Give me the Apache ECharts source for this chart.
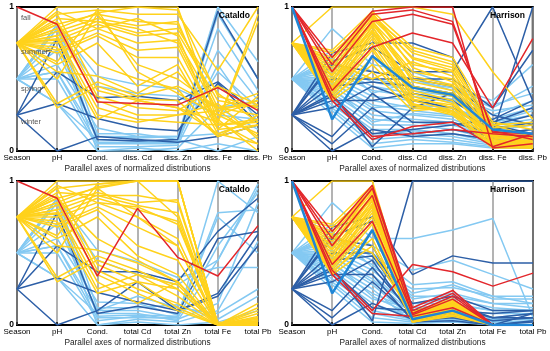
<!DOCTYPE html>
<html><head><meta charset="utf-8">
<script src="https://cdn.jsdelivr.net/npm/echarts@6/dist/echarts.min.js"></script>
<style>html,body{margin:0;padding:0;background:#fff}#c{width:550px;height:351px}</style>
</head><body><div id="c"></div>
<script>
// Axis labels
const dissAxes = ['Season','pH','Cond.','diss. Cd','diss. Zn','diss. Fe','diss. Pb'];
const totalAxes = ['Season','pH','Cond.','total Cd','total Zn','total Fe','total Pb'];
const axisTitle = 'Parallel axes of normalized distributions';
const seasonLabels = ['fall','summer','spring','winter'];
const seasonValues = [1, 0.75, 0.5, 0.25];

// Cataldo samples: [season, pH, Cond.]
const cataldoBase = [
 [1,0.88,0.34],
 [0.25,0,0.1],[0.25,0.33,0.225],[0.25,0.55,0.37],[0.25,0.78,0.08],
 [0.5,0.88,0.52],[0.5,0.85,0.45],[0.5,0.55,0.1],[0.5,0.33,0.08],[0.5,0.55,0.05],[0.5,0.5,0.03],
 [0.5,0.78,0.0],[0.5,0.7,0.1],[0.5,0.88,0.12],[0.5,0.33,0.0],[0.5,0.6,0.16],[0.5,0.85,0.06],
 [0.75,1.0,1.0],[0.75,0.95,0.98],[0.75,0.88,0.95],[0.75,0.83,0.92],[0.75,0.8,0.9],[0.75,0.77,0.88],
 [0.75,0.75,0.85],[0.75,0.7,0.82],[0.75,0.68,0.8],[0.75,0.6,0.75],[0.75,0.55,0.52],[0.75,0.33,0.48],
 [0.75,0.3,0.45],[0.75,0.95,0.42],[0.75,0.9,0.38],[0.75,0.85,0.35],[0.75,0.8,0.3],[0.75,0.78,0.25],
 [0.75,0.72,0.22],[0.75,0.62,0.98],[0.75,0.85,0.96],[0.75,0.97,0.85],[0.75,0.92,0.9],[0.75,0.88,0.6],
 [0.75,0.5,0.95]
];
// Cataldo dissolved: [Cd, Zn, Fe, Pb]
const cataldoDiss = [
 [0.33,0.32,0.44,0.28],
 [0.08,0.06,0.1,0.18],[0.16,0.14,0.47,0.19],[0.38,0.35,0.48,0.25],[0.07,0.08,0.97,0.5],
 [0.46,0.43,0.3,0.35],[0.4,0.38,0.25,0.22],[0.1,0.1,1.0,0.62],[0.07,0.07,0.95,0.5],[0.05,0.05,0.85,0.42],[0.03,0.04,0.6,0.2],
 [0.0,0.02,0.3,0.15],[0.09,0.1,0.12,0.22],[0.12,0.08,0.0,0.1],[0.02,0.0,0.05,0.0],[0.1,0.1,0.55,0.3],[0.06,0.06,0.7,0.35],
 [1.0,1.0,0.2,0.95],[0.95,0.95,0.56,1.0],[0.9,0.88,0.3,0.4],[0.87,0.9,0.25,0.35],[0.82,0.85,0.4,0.2],[0.8,0.82,0.35,0.3],
 [0.75,0.77,0.28,0.1],[0.7,0.72,0.18,0.22],[0.65,0.65,0.15,0.38],[0.45,0.6,0.12,0.05],[0.4,0.55,0.22,0.0],[0.38,0.45,0.3,0.25],
 [0.36,0.35,0.1,0.18],[0.35,0.3,0.2,0.9],[0.3,0.28,0.45,0.32],[0.25,0.25,0.33,0.08],[0.22,0.2,0.18,0.2],[0.2,0.25,0.28,0.35],
 [0.35,0.3,0.12,0.22],[0.55,0.4,0.25,0.12],[1.0,0.98,0.38,0.3],[0.92,0.8,0.15,0.18],[0.85,0.75,0.2,0.05],[0.5,0.43,0.1,0.25],
 [0.6,0.5,0.3,0.32]
];
// Cataldo total: [Cd, Zn, Fe, Pb]
const cataldoTotal = [
 [0.81,0.47,0.34,0.69],
 [0.3,0.1,0.2,0.55],[0.16,0.1,0.22,0.63],[0.37,0.3,0.65,0.88],[0.13,0.08,0.6,0.65],
 [0.44,0.33,0.4,0.4],[0.35,0.28,0.45,0.95],[0.1,0.05,1.0,0.78],[0.08,0.03,0.45,0.98],[0.05,0.05,0.55,0.92],[0.06,0.04,0.15,0.85],
 [0.04,0.02,0.1,0.58],[0.2,0.12,0.08,0.25],[0.12,0.14,0.04,0.2],[0.02,0.0,0.02,0.1],[0.15,0.07,0.78,0.8],[0.07,0.06,0.75,0.5],
 [1.0,1.0,0.0,0.02],[1.0,1.0,0.0,0.05],[1.0,1.0,0.01,0.0],[0.85,0.87,0.0,0.1],[0.83,0.78,0.0,0.03],[0.8,0.72,0.0,0.15],
 [0.75,0.6,0.0,0.01],[0.68,0.55,0.0,0.0],[0.55,0.45,0.0,0.08],[0.48,0.35,0.0,0.02],[0.43,0.3,0.0,0.0],[0.38,0.25,0.0,0.04],
 [0.35,0.2,0.0,0.12],[0.3,0.12,0.0,0.01],[0.25,0.15,0.0,0.03],[0.22,0.1,0.0,0.0],[0.15,0.3,0.0,0.02],[0.35,0.28,0.0,0.06],
 [0.3,0.25,0.0,0.0],[1.0,1.0,0.0,0.0],[1.0,0.75,0.0,0.05],[0.82,0.7,0.02,0.0],[0.9,0.85,0.0,0.0],[0.45,0.3,0.0,0.0],
 [0.75,0.55,0.0,0.0]
];

// Harrison samples: [season, pH, Cond.]
const harrisonBase = [
 [0.5,0.85,0.6],[0.5,0.7,0.55],[0.5,0.62,0.5],[0.5,0.58,0.45],[0.5,0.55,0.42],[0.5,0.52,0.38],[0.5,0.5,0.35],
 [0.5,0.47,0.32],[0.5,0.45,0.28],[0.5,0.42,0.25],[0.5,0.4,0.22],[0.5,0.38,0.18],[0.5,0.35,0.15],[0.5,0.32,0.12],
 [0.5,0.3,0.08],[0.5,0.28,0.05],[0.5,0.25,0.02],[0.5,0.6,0.48],[0.5,0.65,0.4],[0.5,0.48,0.3],[0.5,0.44,0.2],[0.5,0.36,0.1],
 [0.25,0.68,0.75],[0.25,0.62,0.72],[0.25,0.5,0.5],[0.25,0.45,0.48],[0.25,0.3,0.45],[0.25,0.1,0.4],[0.25,0.05,0.3],
 [0.25,0.0,0.15],[0.25,0.4,0.03],[0.25,0.38,0.12],[0.25,0.6,0.55],[0.25,0.35,0.35],
 [0.75,1.0,1.0],[0.75,0.7,0.97],[0.75,0.65,0.95],[0.75,0.6,0.92],[0.75,0.58,0.9],[0.75,0.55,0.88],[0.75,0.52,0.86],
 [0.75,0.5,0.84],[0.75,0.48,0.82],[0.75,0.45,0.8],[0.75,0.43,0.78],[0.75,0.42,0.75],[0.75,0.4,0.72],[0.75,0.38,0.7],
 [0.75,0.36,0.65],[0.75,0.35,0.55],[0.75,0.62,0.5],[0.75,0.68,0.93],[0.75,0.53,0.96],[0.75,0.47,0.91],[0.75,0.44,0.87],
 [0.75,0.4,0.83],[0.75,0.37,0.6],[0.75,0.56,0.89],[0.75,0.63,0.94],
 [1,0.65,0.97],[1,0.6,0.95],[1,0.42,0.72],[1,0.38,0.1],[1,0.35,0.08],[1,0.55,0.9]
];
const harrisonDiss = [
 [0.55,0.45,0.35,0.6],[0.5,0.42,0.3,0.45],[0.45,0.4,0.25,0.35],[0.4,0.36,0.22,0.3],[0.38,0.34,0.2,0.25],[0.35,0.3,0.18,0.22],[0.3,0.28,0.15,0.2],
 [0.28,0.25,0.14,0.18],[0.25,0.22,0.12,0.15],[0.22,0.2,0.1,0.12],[0.2,0.18,0.1,0.1],[0.18,0.15,0.08,0.08],[0.15,0.12,0.06,0.06],[0.12,0.1,0.05,0.05],
 [0.1,0.08,0.04,0.04],[0.08,0.06,0.03,0.03],[0.05,0.05,0.02,0.02],[0.42,0.38,0.28,0.32],[0.48,0.44,0.32,0.4],[0.32,0.3,0.2,0.28],[0.26,0.24,0.16,0.2],[0.14,0.12,0.08,0.1],
 [0.75,0.65,0.12,1.0],[0.55,0.55,1.0,0.35],[0.5,0.5,0.3,0.7],[0.45,0.4,0.2,0.3],[0.35,0.3,0.15,0.2],[0.2,0.2,0.12,0.15],[0.12,0.15,0.1,0.1],
 [0.1,0.12,0.08,0.12],[0.3,0.4,0.18,0.25],[0.15,0.18,0.22,0.35],[0.5,0.45,0.25,0.18],[0.4,0.35,0.18,0.12],
 [1.0,0.95,0.55,0.22],[0.72,0.65,0.2,0.15],[0.68,0.6,0.18,0.1],[0.65,0.58,0.15,0.08],[0.6,0.55,0.12,0.05],[0.55,0.5,0.1,0.06],[0.5,0.45,0.08,0.04],
 [0.45,0.4,0.06,0.03],[0.42,0.35,0.05,0.02],[0.4,0.33,0.1,0.08],[0.38,0.3,0.12,0.1],[0.35,0.28,0.08,0.05],[0.33,0.26,0.05,0.04],[0.32,0.25,0.02,0.02],
 [0.3,0.28,0.04,0.03],[0.28,0.3,0.06,0.05],[0.62,0.52,0.14,0.12],[0.7,0.62,0.16,0.18],[0.58,0.48,0.18,0.2],[0.48,0.42,0.07,0.06],[0.36,0.32,0.09,0.07],
 [0.44,0.38,0.11,0.09],[0.32,0.27,0.03,0.02],[0.52,0.46,0.13,0.1],[0.64,0.56,0.1,0.05],
 [1.0,1.0,0.02,0.05],[0.98,0.9,0.13,0.12],[0.82,0.75,0.3,0.78],[0.12,0.15,0.12,0.1],[0.17,0.2,0.03,0.12],[0.95,0.88,0.14,0.08]
];
const harrisonTotal = [
 [0.6,0.66,0.74,0.05],[0.38,0.45,0.35,0.25],[0.28,0.3,0.2,0.2],[0.22,0.28,0.18,0.18],[0.2,0.2,0.15,0.15],[0.15,0.15,0.1,0.1],[0.1,0.1,0.08,0.08],
 [0.08,0.08,0.05,0.05],[0.05,0.05,0.02,0.03],[0.02,0.04,0.0,0.0],[0.1,0.12,0.05,0.08],[0.12,0.14,0.1,0.1],[0.05,0.06,0.02,0.02],[0.08,0.1,0.05,0.05],
 [0.03,0.05,0.0,0.0],[0.02,0.03,0.0,0.0],[0.01,0.02,0.0,0.0],[0.18,0.22,0.15,0.12],[0.25,0.26,0.2,0.15],[0.15,0.18,0.12,0.1],[0.07,0.08,0.04,0.04],[0.04,0.06,0.03,0.02],
 [0.35,0.48,0.43,0.43],[0.02,0.03,0.0,0.0],[0.15,0.2,0.1,0.1],[0.1,0.15,0.05,0.08],[0.05,0.1,0.0,0.08],[0.08,0.12,0.05,0.05],[0.05,0.08,0.0,0.03],
 [0.04,0.06,0.0,0.02],[1.0,1.0,1.0,1.0],[0.1,0.1,0.08,0.1],[0.06,0.1,0.03,0.05],[0.03,0.05,0.0,0.0],
 [0.05,0.15,0.0,0.0],[0.08,0.17,0.0,0.0],[0.06,0.14,0.0,0.0],[0.05,0.13,0.0,0.0],[0.04,0.12,0.0,0.0],[0.04,0.11,0.0,0.0],[0.03,0.1,0.0,0.0],
 [0.03,0.09,0.0,0.0],[0.02,0.08,0.0,0.0],[0.05,0.12,0.0,0.0],[0.06,0.14,0.0,0.0],[0.04,0.1,0.0,0.0],[0.03,0.09,0.0,0.0],[0.02,0.06,0.0,0.0],
 [0.05,0.1,0.0,0.0],[0.08,0.16,0.0,0.0],[0.07,0.15,0.0,0.0],[0.06,0.16,0.0,0.0],[0.09,0.18,0.0,0.0],[0.04,0.12,0.0,0.0],[0.03,0.11,0.0,0.0],
 [0.05,0.13,0.0,0.0],[0.02,0.07,0.0,0.0],[0.06,0.13,0.0,0.0],[0.05,0.14,0.0,0.0],
 [0.12,0.24,0.0,0.0],[0.1,0.22,0.0,0.0],[0.08,0.2,0.0,0.0],[0.42,0.37,0.27,0.36],[0.06,0.12,0.0,0.0],[0.07,0.18,0.0,0.0]
];
// Highlighted Harrison sample (thick blue)
const harrisonHighlightBase = [1,0.22,0.66];
const harrisonHighlightDiss = [0.44,0.39,0.15,0.12];
const harrisonHighlightTotal = [0.04,0.1,0.0,0.0];

const seasonColor = {1:'#e3262b', 0.75:'#ffd21c', 0.5:'#84c9f2', 0.25:'#2d5fa7'};
const drawOrder = [0.5, 0.25, 0.75, 1];
const FONT = '"Liberation Sans",Arial,sans-serif';

const panels = [
 {base:cataldoBase, vals:cataldoDiss, cats:dissAxes, left:17, top:7, name:'Cataldo'},
 {base:harrisonBase, vals:harrisonDiss, cats:dissAxes, left:292, top:7, name:'Harrison', hl:harrisonHighlightDiss},
 {base:cataldoBase, vals:cataldoTotal, cats:totalAxes, left:17, top:181, name:'Cataldo'},
 {base:harrisonBase, vals:harrisonTotal, cats:totalAxes, left:292, top:181, name:'Harrison', hl:harrisonHighlightTotal}
];
const W = 241, H = 144;

const grids = [], xAxes = [], yAxes = [], series = [], graphics = [];
panels.forEach((p, i) => {
  grids.push({left:p.left, top:p.top, width:W, height:H, show:true, borderColor:'#000', borderWidth:2, backgroundColor:'#fff'});
  xAxes.push({type:'category', gridIndex:i, data:p.cats, boundaryGap:false,
    axisLine:{show:false}, axisTick:{show:true, inside:true, length:3, lineStyle:{color:'#333', width:2}},
    splitLine:{show:true, lineStyle:{color:'#9a9a9a', width:1.5}},
    axisLabel:{color:'#000', fontSize:8, fontFamily:FONT, margin:3, interval:0},
    name:axisTitle, nameLocation:'middle', nameGap:14,
    nameTextStyle:{color:'#222', fontSize:8.3, fontFamily:FONT}});
  yAxes.push({type:'value', gridIndex:i, min:0, max:1, interval:1,
    axisLine:{show:false}, axisTick:{show:false}, splitLine:{show:false},
    axisLabel:{color:'#000', fontSize:8.5, fontWeight:'bold', fontFamily:FONT, margin:3}});
  drawOrder.forEach(s => {
    p.base.forEach((b, k) => {
      if (b[0] !== s) return;
      series.push({type:'line', xAxisIndex:i, yAxisIndex:i, data:b.concat(p.vals[k]),
        symbol:'none', silent:true, animation:false,
        lineStyle:{color:seasonColor[s], width:1.5}});
    });
  });
  if (p.hl) {
    series.push({type:'line', xAxisIndex:i, yAxisIndex:i, data:harrisonHighlightBase.concat(p.hl),
      symbol:'none', silent:true, animation:false, z:5, lineStyle:{color:'#1f86d6', width:2.5}});
  }
  graphics.push({type:'text', x:p.left+W-8, y:p.top+9, z:100,
    style:{text:p.name, font:'bold 8.5px '+FONT, fill:'#000', textAlign:'right', textVerticalAlign:'middle'}});
});

// Season labels on first panel
const labelY = [18, 52, 89, 122];
seasonLabels.forEach((t, j) => {
  graphics.push({type:'text', x:21, y:labelY[j], z:100,
    style:{text:t, font:'7.5px '+FONT, fill:'#555', textAlign:'left', textVerticalAlign:'middle'}});
});
graphics.push({type:'line', z:100, shape:{x1:45, y1:52, x2:50, y2:50}, style:{stroke:'#555', lineWidth:1}});
graphics.push({type:'line', z:100, shape:{x1:41, y1:89, x2:45, y2:87}, style:{stroke:'#555', lineWidth:1}});

const chart = echarts.init(document.getElementById('c'), null, {renderer:'canvas'});
chart.setOption({animation:false, grid:grids, xAxis:xAxes, yAxis:yAxes, series:series, graphic:graphics});
</script>
</body></html>
